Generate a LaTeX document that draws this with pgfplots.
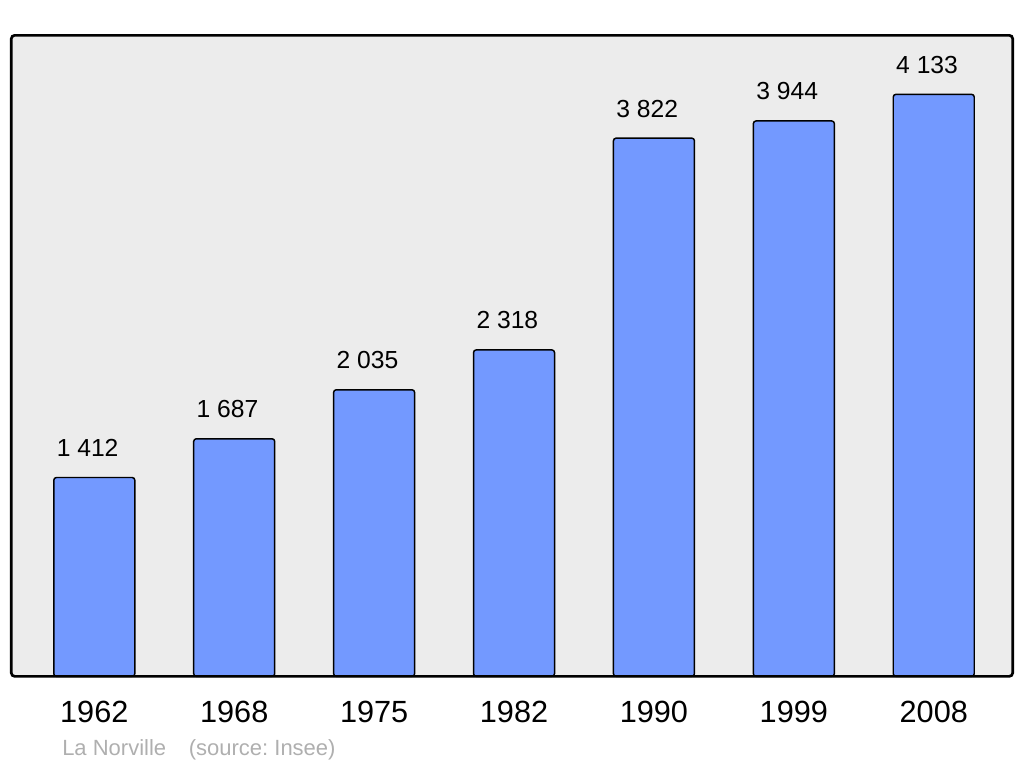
\documentclass[border=0pt]{standalone}
\usepackage{pgfplots}
\pgfplotsset{compat=1.18}
\usepackage{fontspec}
\setmainfont{Liberation Sans}
\frenchspacing
\definecolor{barblue}{RGB}{115,153,255}
\definecolor{bggray}{RGB}{236,236,236}
\definecolor{footgray}{RGB}{175,175,175}
\begin{document}
\begin{tikzpicture}[x=0.75pt,y=0.75pt]
\useasboundingbox (0,0) rectangle (1024,765);
\begin{axis}[
    at={(8.5pt,66.5pt)}, anchor=south west,
    scale only axis,
    width=751pt, height=480.75pt,
    xmin=-0.593, xmax=6.564,
    ymin=0, ymax=4552,
    axis background/.style={fill=bggray},
    axis line style={draw=none},
    major tick length=0pt,
    ytick=\empty,
    xtick=data,
    xticklabels={1962,1968,1975,1982,1990,1999,2008},
    xticklabel style={font=\fontsize{23}{26}\selectfont, anchor=base, yshift=-34.5pt},
    ybar, bar width=60.75pt,
    nodes near coords,
    /pgf/number format/assume math mode=true,
    /pgf/number format/1000 sep={\ },
    every node near coord/.append style={font=\fontsize{18.5}{22}\selectfont, anchor=base, yshift=15.75pt, xshift=-5pt},
    clip=false,
]
\addplot[fill=barblue, draw=black, line width=1.1pt, rounded corners=2pt] coordinates {
    (0,1412) (1,1687) (2,2035) (3,2318) (4,3822) (5,3944) (6,4133)
};
\draw[line width=2pt, rounded corners=2.5pt] (rel axis cs:0,0) rectangle (rel axis cs:1,1);
\end{axis}
\node[anchor=base west, inner sep=0pt, text=footgray, font=\fontsize{16.5}{19}\selectfont] at (62,10) {La Norville\hspace{17pt}(source: Insee)};
\end{tikzpicture}
\end{document}
